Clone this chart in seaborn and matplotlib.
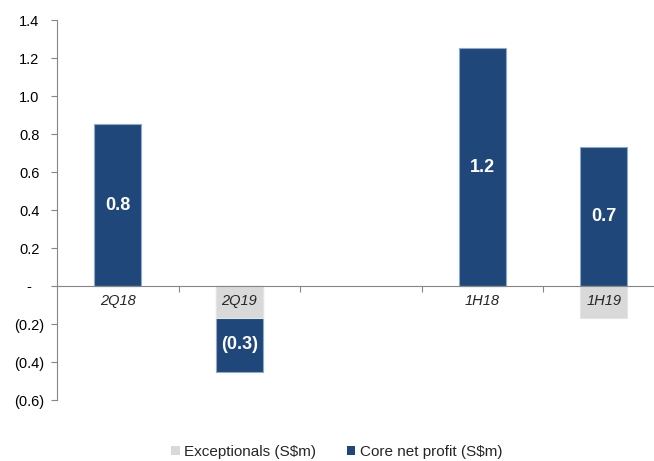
import matplotlib
matplotlib.use("Agg")
import matplotlib.pyplot as plt
import matplotlib.ticker as mticker
from matplotlib.patches import Patch
import seaborn as sns
import pandas as pd
import numpy as np

categories = ["2Q18", "2Q19", "", "1H18", "1H19"]
bar_cats = ["2Q18", "2Q19", "1H18", "1H19"]
exceptionals = [0.0, -0.17, 0.0, -0.17]
core = [0.85, -0.28, 1.25, 0.73]
core_labels = ["0.8", "(0.3)", "1.2", "0.7"]
yticks = [-0.6, -0.4, -0.2, 0.0, 0.2, 0.4, 0.6, 0.8, 1.0, 1.2, 1.4]

BLUE = "#1F477A"
GREY = "#D9D9D9"

sns.set_theme(style="white")
plt.rcParams["font.family"] = ["Liberation Sans", "DejaVu Sans"]

fig = plt.figure(figsize=(6.54, 4.61), dpi=100)
ax = fig.add_axes([57 / 654, 1 - 400 / 461, 1 - 57 / 654, (400 - 20) / 461])

exc = np.array(exceptionals)
cor = np.array(core)
# core bars stack below exceptionals when negative
core_bottom = np.where(cor < 0, exc, 0.0)
core_top = core_bottom + cor

df_core = pd.DataFrame({"cat": bar_cats, "val": core_top})
df_exc = pd.DataFrame({"cat": bar_cats, "val": exc})

sns.barplot(data=df_core, x="cat", y="val", order=categories, color=BLUE,
            saturation=1, width=0.39, edgecolor="#8FA8D0", linewidth=0.8, ax=ax,
            errorbar=None, zorder=1)
sns.barplot(data=df_exc, x="cat", y="val", order=categories, color=GREY,
            saturation=1, width=0.39, edgecolor="#E4E4E4", linewidth=0.8, ax=ax,
            errorbar=None, zorder=1)
ax.set_axisbelow(False)

# labels inside core bars
for c, b, v, lab in zip(bar_cats, core_bottom, cor, core_labels):
    xpos = categories.index(c)
    ax.text(xpos, b + v / 2, lab, ha="center", va="center", color="white",
            fontsize=13, fontweight="bold", zorder=5)

ax.set_ylim(-0.6, 1.4)
ax.set_xlim(-0.5, -0.5 + (654 - 57) / 121.5)
ax.set_yticks(yticks)


def fmt(v, pos):
    if abs(v) < 1e-9:
        return "-"
    if v < 0:
        return f"({abs(v):.1f})"
    return f"{v:.1f}"


ax.yaxis.set_major_formatter(mticker.FuncFormatter(fmt))
ax.tick_params(axis="y", which="major", direction="out", length=4, width=0.8,
               color="#868686", labelsize=10.5, labelcolor="black", pad=16, left=True)
for lbl in ax.get_yticklabels():
    lbl.set_horizontalalignment("center")

# x axis at zero
ax.spines["bottom"].set_position(("data", 0))
ax.spines["bottom"].set_color("#868686")
ax.spines["left"].set_color("#868686")
ax.spines["left"].set_linewidth(0.8)
ax.spines["bottom"].set_linewidth(0.8)
ax.spines["top"].set_visible(False)
ax.spines["right"].set_visible(False)

ax.set_xticks([0.5, 1.5, 2.5, 3.5])
ax.set_xticklabels([])
ax.set_xticks(range(len(categories)), minor=True)
ax.set_xticklabels(categories, minor=True, fontstyle="italic", fontsize=10.5)
ax.tick_params(axis="x", which="major", direction="out", length=4, width=0.8,
               color="#868686", bottom=True)
ax.tick_params(axis="x", which="minor", length=0, pad=6, bottom=True)
ax.set_xlabel("")
ax.set_ylabel("")
ax.grid(False)

handles = [Patch(facecolor=GREY, edgecolor="none", label="Exceptionals (S$m)"),
           Patch(facecolor=BLUE, edgecolor="none", label="Core net profit (S$m)")]
fig.legend(handles=handles, loc="center", bbox_to_anchor=(337 / 654, 1 - 452 / 461),
           ncol=2, frameon=False, fontsize=11, handlelength=0.55, handleheight=0.55,
           handletextpad=0.3, columnspacing=2.0)

fig.savefig("out.png", dpi=100)
